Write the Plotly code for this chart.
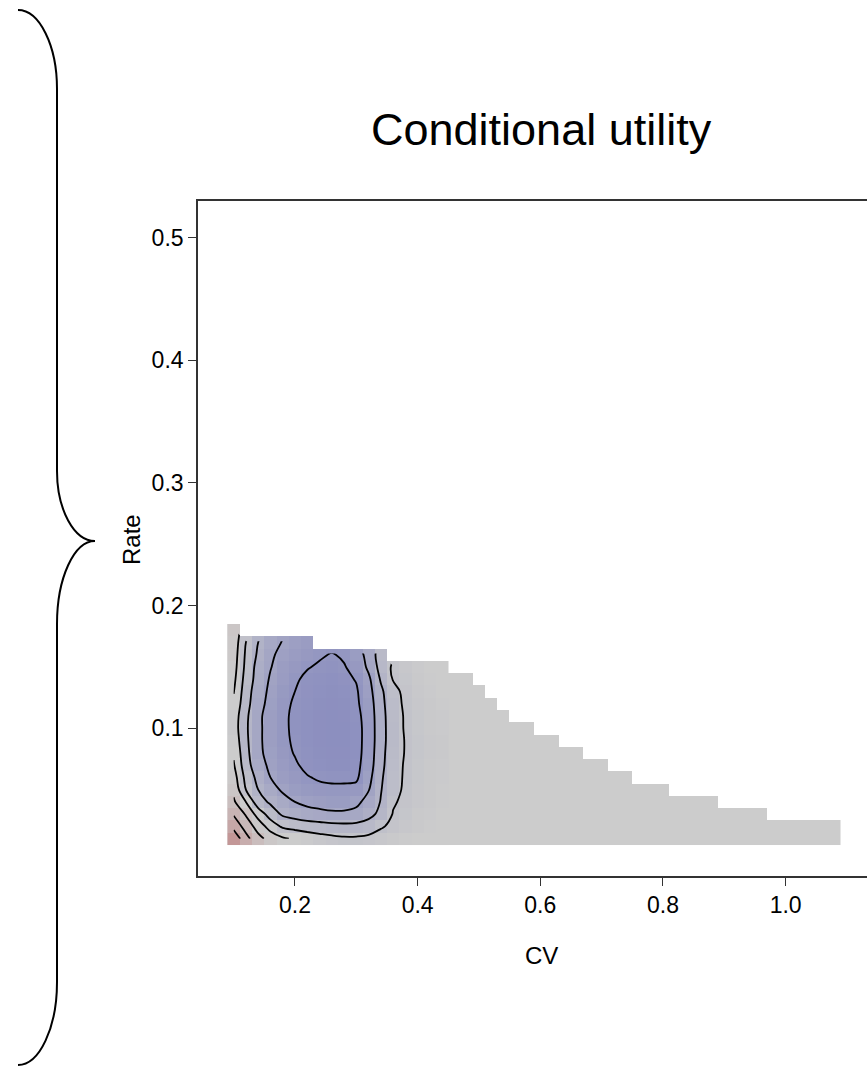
import plotly.graph_objects as go

# ---------------- data ----------------
cv_centers = [0.10, 0.12, 0.14, 0.16, 0.18, 0.20, 0.22, 0.24, 0.26, 0.28,
              0.30, 0.32, 0.34, 0.36, 0.38, 0.40, 0.42, 0.44, 0.46, 0.48,
              0.50, 0.52, 0.54, 0.56, 0.58, 0.60, 0.62, 0.64, 0.66, 0.68,
              0.70, 0.72, 0.74, 0.76, 0.78, 0.80, 0.82, 0.84, 0.86, 0.88,
              0.90, 0.92, 0.94, 0.96, 0.98, 1.00, 1.02, 1.04, 1.06, 1.08]

rate_centers = [0.01, 0.02, 0.03, 0.04, 0.05, 0.06, 0.07, 0.08, 0.09,
                0.10, 0.11, 0.12, 0.13, 0.14, 0.15, 0.16, 0.17, 0.18]

# highest rate evaluated for each CV column (staircase outline)
col_max_rate = [0.18,
                0.17, 0.17, 0.17, 0.17, 0.17, 0.17,
                0.16, 0.16, 0.16, 0.16, 0.16, 0.16,
                0.15, 0.15, 0.15, 0.15, 0.15,
                0.14, 0.14, 0.13, 0.12, 0.11,
                0.10, 0.10, 0.09, 0.09, 0.08, 0.08, 0.07, 0.07, 0.06, 0.06,
                0.05, 0.05, 0.05,
                0.04, 0.04, 0.04, 0.04,
                0.03, 0.03, 0.03, 0.03,
                0.02, 0.02, 0.02, 0.02, 0.02, 0.02]

N = None
# conditional utility for CV 0.10 ... 0.44 (rows: rate 0.01 ... 0.18)
utility = [
    [-0.65, -0.37, -0.16, -0.03, 0.07, 0.13, 0.18, 0.22, 0.25, 0.27, 0.27, 0.25, 0.22, 0.19, 0.17, 0.15, 0.14, 0.13],
    [-0.44, -0.22, -0.02, 0.19, 0.33, 0.37, 0.40, 0.42, 0.44, 0.45, 0.44, 0.41, 0.32, 0.26, 0.22, 0.19, 0.17, 0.15],
    [-0.28, -0.08, 0.18, 0.39, 0.53, 0.58, 0.62, 0.64, 0.66, 0.66, 0.65, 0.56, 0.45, 0.29, 0.24, 0.20, 0.18, 0.16],
    [-0.13, 0.10, 0.42, 0.53, 0.62, 0.70, 0.75, 0.78, 0.80, 0.80, 0.74, 0.64, 0.49, 0.32, 0.26, 0.22, 0.19, 0.17],
    [-0.05, 0.30, 0.50, 0.62, 0.73, 0.80, 0.84, 0.86, 0.87, 0.87, 0.85, 0.71, 0.51, 0.36, 0.27, 0.22, 0.19, 0.17],
    [0.01, 0.36, 0.56, 0.70, 0.79, 0.85, 0.89, 0.92, 0.93, 0.93, 0.93, 0.76, 0.53, 0.36, 0.28, 0.23, 0.20, 0.18],
    [0.08, 0.42, 0.62, 0.74, 0.82, 0.88, 0.94, 0.96, 0.97, 0.97, 0.95, 0.80, 0.55, 0.38, 0.28, 0.23, 0.20, 0.18],
    [0.13, 0.44, 0.66, 0.76, 0.85, 0.91, 0.95, 0.97, 0.98, 0.98, 0.96, 0.82, 0.56, 0.39, 0.29, 0.24, 0.21, 0.19],
    [0.17, 0.46, 0.66, 0.78, 0.87, 0.92, 0.96, 0.98, 0.99, 0.99, 0.96, 0.83, 0.57, 0.40, 0.29, 0.24, 0.21, 0.19],
    [0.20, 0.47, 0.66, 0.78, 0.87, 0.93, 0.96, 0.98, 0.99, 0.99, 0.96, 0.83, 0.57, 0.40, 0.28, 0.23, 0.20, 0.18],
    [0.19, 0.46, 0.66, 0.78, 0.87, 0.93, 0.96, 0.98, 0.99, 0.98, 0.95, 0.82, 0.57, 0.39, 0.28, 0.23, 0.20, 0.18],
    [0.14, 0.43, 0.63, 0.76, 0.86, 0.92, 0.95, 0.97, 0.98, 0.97, 0.93, 0.80, 0.56, 0.37, 0.27, 0.22, 0.19, 0.17],
    [0.09, 0.41, 0.61, 0.74, 0.84, 0.90, 0.94, 0.96, 0.97, 0.96, 0.92, 0.77, 0.54, 0.35, 0.26, 0.21, 0.18, 0.16],
    [0.05, 0.38, 0.58, 0.72, 0.81, 0.88, 0.93, 0.95, 0.96, 0.94, 0.89, 0.74, 0.48, 0.29, 0.24, 0.20, 0.17, 0.15],
    [0.02, 0.35, 0.57, 0.69, 0.79, 0.85, 0.89, 0.92, 0.93, 0.91, 0.85, 0.66, 0.43, 0.27, 0.22, 0.18, 0.16, 0.14],
    [0.00, 0.33, 0.53, 0.67, 0.75, 0.81, 0.85, 0.88, 0.91, 0.88, 0.80, 0.63, 0.40, N, N, N, N, N],
    [-0.02, 0.30, 0.50, 0.63, 0.71, 0.77, 0.81, N, N, N, N, N, N, N, N, N, N, N],
    [-0.04, N, N, N, N, N, N, N, N, N, N, N, N, N, N, N, N, N],
]

x_tick_vals = [0.2, 0.4, 0.6, 0.8, 1.0]
x_tick_text = ["0.2", "0.4", "0.6", "0.8", "1.0"]
y_tick_vals = [0.1, 0.2, 0.3, 0.4, 0.5]
y_tick_text = ["0.1", "0.2", "0.3", "0.4", "0.5"]

title_text = "Conditional utility"
x_title = "CV"
y_title = "Rate"

# ---------------- layout geometry (pixels) ----------------
W, H = 867, 1071
L, T, B = 198, 201, 195
PW, PH = W - L, H - T - B
X_RANGE = [0.0419, 1.1327]
Y_RANGE = [-0.0204, 0.5298]
FONT = "Liberation Sans, Arial, Helvetica, sans-serif"
AXIS_COLOR = "#333333"


def px(x, y):
    return (x - L) / PW, (H - B - y) / PH


def pstr(x, y):
    a, b = px(x, y)
    return f"{a:.5f},{b:.5f}"


n_util = len(utility[0])
util_cv = cv_centers[:n_util]

mask = [[1 if r <= col_max_rate[j] + 1e-9 else None for j in range(len(cv_centers))]
        for r in rate_centers]

fig = go.Figure()

fig.add_trace(go.Heatmap(
    x=cv_centers, y=rate_centers, z=mask,
    colorscale=[[0, "#CCCCCC"], [1, "#CCCCCC"]],
    showscale=False, zsmooth=False, hoverinfo="skip"))

fig.add_trace(go.Heatmap(
    x=util_cv, y=rate_centers, z=utility,
    colorscale=[[0, "#C28E8E"], [0.45, "#CCCCCC"], [0.52, "#CCCCCC"], [1, "#8B8EBF"]],
    zmin=-0.76, zmax=1.0,
    showscale=False, zsmooth=False, hoverinfo="skip"))

fig.add_trace(go.Contour(
    x=util_cv, y=rate_centers, z=utility,
    contours=dict(coloring="none", start=-0.5, end=0.9, size=0.2, showlabels=False),
    line=dict(color="black", width=1.8, smoothing=1),
    showscale=False, connectgaps=False, hoverinfo="skip"))

# curly brace on the left
brace = (f"M {pstr(18, 10)} C {pstr(39.5, 10)} {pstr(57, 45.5)} {pstr(57, 89)} "
         f"L {pstr(57, 471)} C {pstr(57, 509.5)} {pstr(74, 541)} {pstr(95, 541)} "
         f"C {pstr(74, 541)} {pstr(57, 578)} {pstr(57, 624)} "
         f"L {pstr(57, 982)} C {pstr(57, 1027.7)} {pstr(39.5, 1065)} {pstr(18, 1065)}")

tx, ty = px(541, 130)
cx, cy = px(541, 955)
rx, ry = px(131, 540)

fig.update_layout(
    width=W, height=H, autosize=False,
    margin=dict(l=L, r=0, t=T, b=B, pad=0),
    paper_bgcolor="white", plot_bgcolor="white",
    font=dict(family=FONT, color="black", size=23),
    showlegend=False,
    xaxis=dict(range=X_RANGE, showgrid=False, zeroline=False,
               showline=True, linecolor=AXIS_COLOR, linewidth=1.6, mirror=True,
               ticks="outside", ticklen=8, tickwidth=1.4, tickcolor=AXIS_COLOR,
               tickvals=x_tick_vals, ticktext=x_tick_text,
               tickfont=dict(family=FONT, size=23, color="black")),
    yaxis=dict(range=Y_RANGE, showgrid=False, zeroline=False,
               showline=True, linecolor=AXIS_COLOR, linewidth=1.6,
               ticks="outside", ticklen=8, tickwidth=1.4, tickcolor=AXIS_COLOR,
               tickvals=y_tick_vals, ticktext=y_tick_text,
               tickfont=dict(family=FONT, size=23, color="black")),
    shapes=[dict(type="path", path=brace, xref="paper", yref="paper",
                 line=dict(color="black", width=2))],
    annotations=[
        dict(text=title_text, x=tx, y=ty, xref="paper", yref="paper",
             xanchor="center", yanchor="middle", showarrow=False,
             font=dict(family=FONT, size=45, color="black")),
        dict(text=x_title, x=cx, y=cy, xref="paper", yref="paper",
             xanchor="center", yanchor="middle", showarrow=False,
             font=dict(family=FONT, size=24, color="black")),
        dict(text=y_title, x=rx, y=ry, xref="paper", yref="paper",
             xanchor="center", yanchor="middle", showarrow=False, textangle=-90,
             font=dict(family=FONT, size=24, color="black")),
    ],
)

fig.write_html("out.html")
